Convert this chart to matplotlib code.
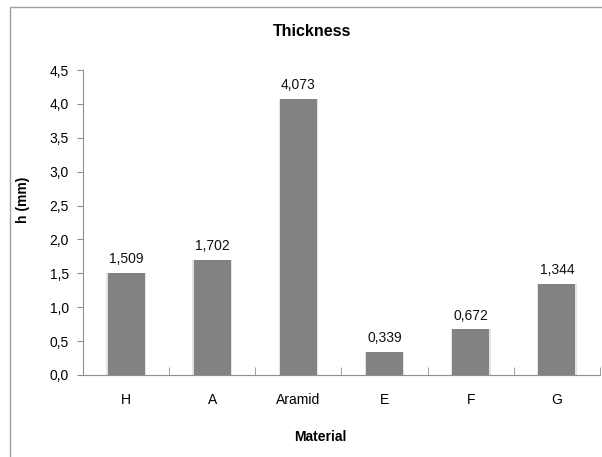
import numpy as np
import matplotlib.pyplot as plt
from matplotlib.patches import Rectangle
from matplotlib.ticker import FuncFormatter

# chart data
materials = ["H", "A", "Aramid", "E", "F", "G"]
thickness = [1.509, 1.702, 4.073, 0.339, 0.672, 1.344]
y_ticks = [0.0, 0.5, 1.0, 1.5, 2.0, 2.5, 3.0, 3.5, 4.0, 4.5]

plt.rcParams['font.family'] = ['Liberation Sans', 'DejaVu Sans']

fig = plt.figure(figsize=(6.02, 4.57), dpi=100)
ax = fig.add_axes([83 / 602, 1 - 375 / 457, 517 / 602, 305 / 457])

# outer frame (runs off the right and bottom edges)
fig.patches.append(Rectangle((10 / 602, -0.2), 2.0, 1.2 - 7 / 457,
                             transform=fig.transFigure, fill=False,
                             edgecolor="#a0a0a0", linewidth=1.0))

x = np.arange(len(materials))
# soft shadow then bar
ax.bar(x, thickness, width=0.46, color="#e4e4e4", zorder=1)
ax.bar(x, thickness, width=0.43, color="#828282", zorder=2)

for xi, v in zip(x, thickness):
    ax.annotate(f"{v:.3f}".replace(".", ","), (xi, v), xytext=(0, 5),
                textcoords="offset points", ha="center", va="bottom",
                fontsize=10, color="#111111")

ax.set_xlim(-0.5, len(materials) - 0.5)
ax.set_ylim(0, 4.5)
ax.set_yticks(y_ticks)
ax.yaxis.set_major_formatter(FuncFormatter(lambda v, p: f"{v:.1f}".replace(".", ",")))

ax.set_xticks(x)
ax.set_xticklabels(materials)
ax.set_xticks(np.arange(len(materials) + 1) - 0.5, minor=True)
ax.tick_params(axis="x", which="major", length=0, pad=13, labelsize=10)
ax.tick_params(axis="x", which="minor", direction="in", length=6, color="#909090")
ax.tick_params(axis="y", direction="out", length=4, color="#909090", labelsize=10, pad=6)

for side in ["top", "right"]:
    ax.spines[side].set_visible(False)
ax.spines["left"].set_color("#909090")
ax.spines["bottom"].set_color("#909090")

fig.text(312 / 602, 1 - 31 / 457, "Thickness", ha="center", va="center",
         fontsize=11.5, fontweight="bold")
fig.text(320 / 602, 1 - 437 / 457, "Material", ha="center", va="center",
         fontsize=10, fontweight="bold")
fig.text(23 / 602, 1 - 200 / 457, "h (mm)", ha="center", va="center",
         fontsize=10, fontweight="bold", rotation=90)

fig.savefig("out.png", dpi=100)
